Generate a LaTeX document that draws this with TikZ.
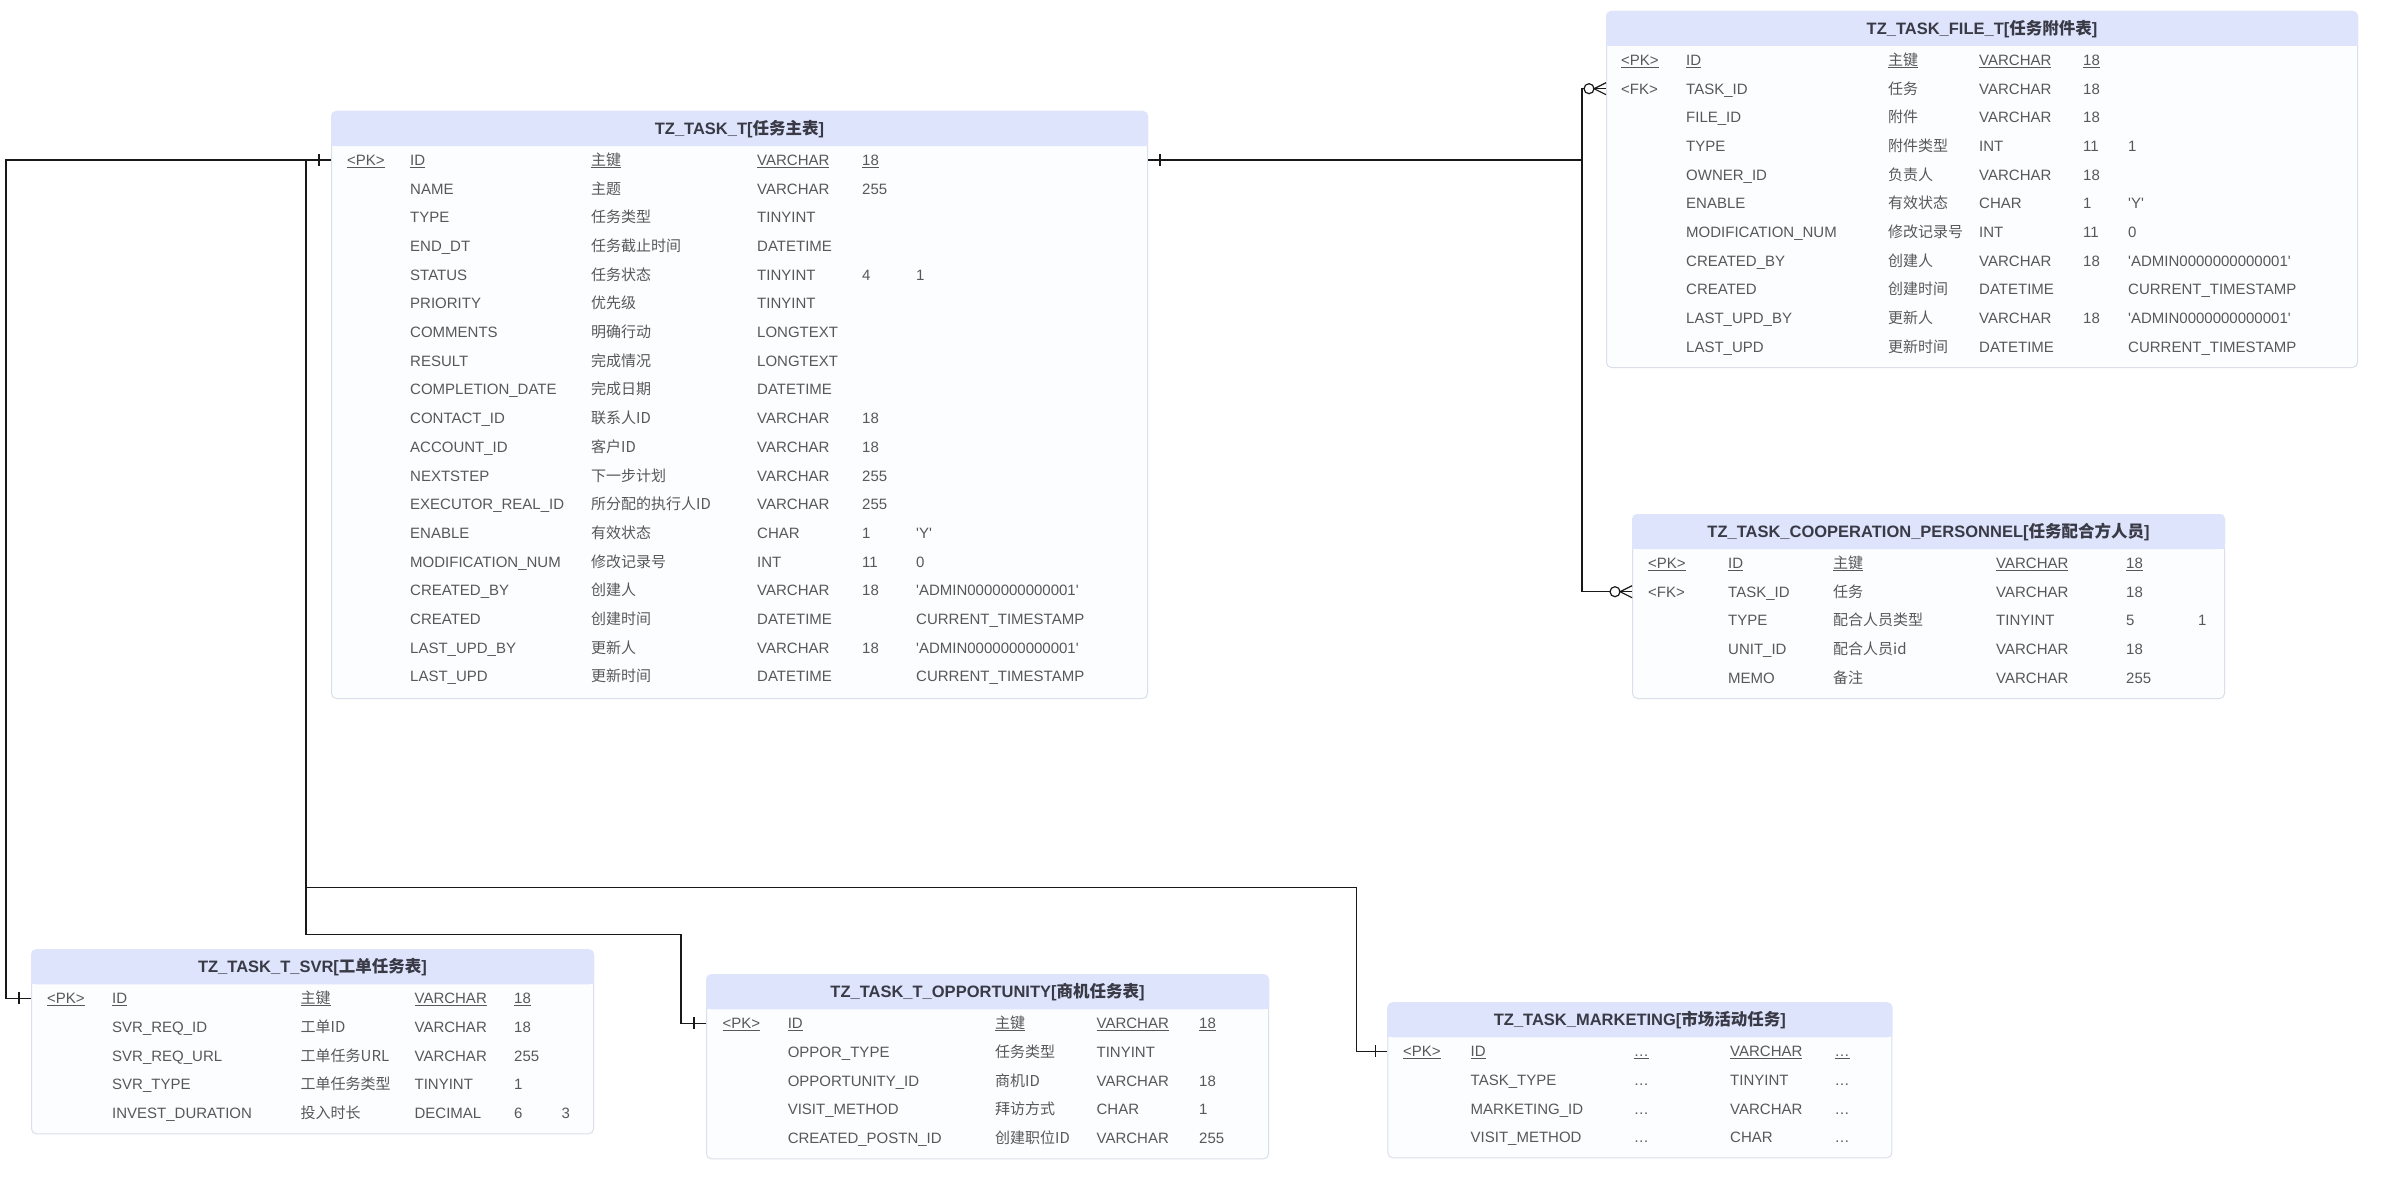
\documentclass[tikz,border=0pt]{standalone}
\usepackage{fontspec}
\newfontfamily\latin{Liberation Sans}
\newfontfamily\cjk{Noto Sans CJK SC}
\usetikzlibrary{calc}
\definecolor{headblue}{RGB}{221,228,252}
\definecolor{bodywhite}{RGB}{252,253,255}
\definecolor{boxline}{RGB}{219,223,233}
\definecolor{rowgray}{RGB}{88,88,88}
\definecolor{titlegray}{RGB}{58,58,70}
\newcommand{\pkline}[1]{\underline{\raisebox{0pt}[\height][0pt]{#1}}}
\newcommand{\sqt}{\textquotesingle}
\newcommand{\admin}{\sqt ADMIN0000000000001\sqt}
\begin{document}
\begin{tikzpicture}[x=1pt,y=-1pt,
    tablebox/.style={draw=boxline,fill=bodywhite,line width=1pt,rounded corners=5pt,anchor=north west,inner sep=0pt},
    tabletitle/.style={inner sep=0pt,text=titlegray,text height=11.5pt,text depth=0pt,font=\latin\bfseries\fontsize{16.5pt}{19pt}\selectfont},
    field/.style={anchor=west,inner sep=0pt,text=rowgray,text height=10.7pt,text depth=0pt,font=\latin\fontsize{15pt}{18pt}\selectfont},
    note/.style={field,font=\cjk\fontsize{15pt}{18pt}\selectfont},
    link/.style={draw=black!90,line width=1.2pt}]
    \path[use as bounding box,fill=white] (0,0) rectangle (2381,1180);

    % TZ_TASK_T
    \node[tablebox,minimum width=816pt,minimum height=587pt] (task) at (331,111) {};
    \fill[headblue,rounded corners=5pt] (task.north west) rectangle ($(task.north east)+(0,35)$);
    \fill[headblue] ($(task.north west)+(0,20)$) rectangle ($(task.north east)+(0,35)$);
    \node[tabletitle] (task-title) at ($(task.north)+(0,17.5)$) {TZ\_TASK\_T[{\cjk 任务主表}]};
    \node[field] (task-pk) at (347,160) {\pkline{<PK>}};
    \node[field] (task-n0) at (410,160) {\pkline{ID}};
    \node[note] (task-c0) at (591,160) {\pkline{主键}};
    \node[field] (task-t0) at (757,160) {\pkline{VARCHAR}};
    \node[field] (task-l0) at (862,160) {\pkline{18}};
    \foreach \n/\c/\t/\l/\d [count=\i] in {
        NAME/主题/VARCHAR/255/{},
        TYPE/任务类型/TINYINT/{}/{},
        END\_DT/任务截止时间/DATETIME/{}/{},
        STATUS/任务状态/TINYINT/4/1,
        PRIORITY/优先级/TINYINT/{}/{},
        COMMENTS/明确行动/LONGTEXT/{}/{},
        RESULT/完成情况/LONGTEXT/{}/{},
        COMPLETION\_DATE/完成日期/DATETIME/{}/{},
        CONTACT\_ID/联系人ID/VARCHAR/18/{},
        ACCOUNT\_ID/客户ID/VARCHAR/18/{},
        NEXTSTEP/下一步计划/VARCHAR/255/{},
        EXECUTOR\_REAL\_ID/所分配的执行人ID/VARCHAR/255/{},
        ENABLE/有效状态/CHAR/1/\sqt Y\sqt,
        MODIFICATION\_NUM/修改记录号/INT/11/0,
        CREATED\_BY/创建人/VARCHAR/18/\admin,
        CREATED/创建时间/DATETIME/{}/CURRENT\_TIMESTAMP,
        LAST\_UPD\_BY/更新人/VARCHAR/18/\admin,
        LAST\_UPD/更新时间/DATETIME/{}/CURRENT\_TIMESTAMP}
    {
        \node[field] (task-n\i) at (410,{160+28.7*\i}) {\n};
        \node[note] (task-c\i) at (591,{160+28.7*\i}) {\c};
        \node[field] (task-t\i) at (757,{160+28.7*\i}) {\t};
        \node[field] (task-l\i) at (862,{160+28.7*\i}) {\l};
        \node[field] (task-d\i) at (916,{160+28.7*\i}) {\d};
    }

    % TZ_TASK_FILE_T
    \node[tablebox,minimum width=751pt,minimum height=356pt] (file) at (1606,11) {};
    \fill[headblue,rounded corners=5pt] (file.north west) rectangle ($(file.north east)+(0,35)$);
    \fill[headblue] ($(file.north west)+(0,20)$) rectangle ($(file.north east)+(0,35)$);
    \node[tabletitle] (file-title) at ($(file.north)+(0,17.5)$) {TZ\_TASK\_FILE\_T[{\cjk 任务附件表}]};
    \node[field] (file-pk) at (1621,60) {\pkline{<PK>}};
    \node[field] (file-n0) at (1686,60) {\pkline{ID}};
    \node[note] (file-c0) at (1888,60) {\pkline{主键}};
    \node[field] (file-t0) at (1979,60) {\pkline{VARCHAR}};
    \node[field] (file-l0) at (2083,60) {\pkline{18}};
    \node[field] (file-fk) at (1621,88.7) {<FK>};
    \foreach \n/\c/\t/\l/\d [count=\i] in {
        TASK\_ID/任务/VARCHAR/18/{},
        FILE\_ID/附件/VARCHAR/18/{},
        TYPE/附件类型/INT/11/1,
        OWNER\_ID/负责人/VARCHAR/18/{},
        ENABLE/有效状态/CHAR/1/\sqt Y\sqt,
        MODIFICATION\_NUM/修改记录号/INT/11/0,
        CREATED\_BY/创建人/VARCHAR/18/\admin,
        CREATED/创建时间/DATETIME/{}/CURRENT\_TIMESTAMP,
        LAST\_UPD\_BY/更新人/VARCHAR/18/\admin,
        LAST\_UPD/更新时间/DATETIME/{}/CURRENT\_TIMESTAMP}
    {
        \node[field] (file-n\i) at (1686,{60+28.7*\i}) {\n};
        \node[note] (file-c\i) at (1888,{60+28.7*\i}) {\c};
        \node[field] (file-t\i) at (1979,{60+28.7*\i}) {\t};
        \node[field] (file-l\i) at (2083,{60+28.7*\i}) {\l};
        \node[field] (file-d\i) at (2128,{60+28.7*\i}) {\d};
    }

    % TZ_TASK_COOPERATION_PERSONNEL
    \node[tablebox,minimum width=592pt,minimum height=184pt] (coop) at (1632,514) {};
    \fill[headblue,rounded corners=5pt] (coop.north west) rectangle ($(coop.north east)+(0,35)$);
    \fill[headblue] ($(coop.north west)+(0,20)$) rectangle ($(coop.north east)+(0,35)$);
    \node[tabletitle] (coop-title) at ($(coop.north)+(0,17.5)$) {TZ\_TASK\_COOPERATION\_PERSONNEL[{\cjk 任务配合方人员}]};
    \node[field] (coop-pk) at (1648,563) {\pkline{<PK>}};
    \node[field] (coop-n0) at (1728,563) {\pkline{ID}};
    \node[note] (coop-c0) at (1833,563) {\pkline{主键}};
    \node[field] (coop-t0) at (1996,563) {\pkline{VARCHAR}};
    \node[field] (coop-l0) at (2126,563) {\pkline{18}};
    \node[field] (coop-fk) at (1648,591.7) {<FK>};
    \foreach \n/\c/\t/\l/\d [count=\i] in {
        TASK\_ID/任务/VARCHAR/18/{},
        TYPE/配合人员类型/TINYINT/5/1,
        UNIT\_ID/配合人员id/VARCHAR/18/{},
        MEMO/备注/VARCHAR/255/{}}
    {
        \node[field] (coop-n\i) at (1728,{563+28.7*\i}) {\n};
        \node[note] (coop-c\i) at (1833,{563+28.7*\i}) {\c};
        \node[field] (coop-t\i) at (1996,{563+28.7*\i}) {\t};
        \node[field] (coop-l\i) at (2126,{563+28.7*\i}) {\l};
        \node[field] (coop-d\i) at (2198,{563+28.7*\i}) {\d};
    }

    % TZ_TASK_T_SVR
    \node[tablebox,minimum width=562pt,minimum height=184pt] (svr) at (31,949.3) {};
    \fill[headblue,rounded corners=5pt] (svr.north west) rectangle ($(svr.north east)+(0,35)$);
    \fill[headblue] ($(svr.north west)+(0,20)$) rectangle ($(svr.north east)+(0,35)$);
    \node[tabletitle] (svr-title) at ($(svr.north)+(0,17.5)$) {TZ\_TASK\_T\_SVR[{\cjk 工单任务表}]};
    \node[field] (svr-pk) at (47,998.3) {\pkline{<PK>}};
    \node[field] (svr-n0) at (112,998.3) {\pkline{ID}};
    \node[note] (svr-c0) at (300.5,998.3) {\pkline{主键}};
    \node[field] (svr-t0) at (414.4,998.3) {\pkline{VARCHAR}};
    \node[field] (svr-l0) at (514,998.3) {\pkline{18}};
    \foreach \n/\c/\t/\l/\d [count=\i] in {
        SVR\_REQ\_ID/工单ID/VARCHAR/18/{},
        SVR\_REQ\_URL/工单任务URL/VARCHAR/255/{},
        SVR\_TYPE/工单任务类型/TINYINT/1/{},
        INVEST\_DURATION/投入时长/DECIMAL/6/3}
    {
        \node[field] (svr-n\i) at (112,{998.3+28.7*\i}) {\n};
        \node[note] (svr-c\i) at (300.5,{998.3+28.7*\i}) {\c};
        \node[field] (svr-t\i) at (414.4,{998.3+28.7*\i}) {\t};
        \node[field] (svr-l\i) at (514,{998.3+28.7*\i}) {\l};
        \node[field] (svr-d\i) at (561.5,{998.3+28.7*\i}) {\d};
    }

    % TZ_TASK_T_OPPORTUNITY
    \node[tablebox,minimum width=562pt,minimum height=184pt] (opp) at (706,974.3) {};
    \fill[headblue,rounded corners=5pt] (opp.north west) rectangle ($(opp.north east)+(0,35)$);
    \fill[headblue] ($(opp.north west)+(0,20)$) rectangle ($(opp.north east)+(0,35)$);
    \node[tabletitle] (opp-title) at ($(opp.north)+(0,17.5)$) {TZ\_TASK\_T\_OPPORTUNITY[{\cjk 商机任务表}]};
    \node[field] (opp-pk) at (722.5,1023.3) {\pkline{<PK>}};
    \node[field] (opp-n0) at (787.6,1023.3) {\pkline{ID}};
    \node[note] (opp-c0) at (995,1023.3) {\pkline{主键}};
    \node[field] (opp-t0) at (1096.4,1023.3) {\pkline{VARCHAR}};
    \node[field] (opp-l0) at (1199,1023.3) {\pkline{18}};
    \foreach \n/\c/\t/\l [count=\i] in {
        OPPOR\_TYPE/任务类型/TINYINT/{},
        OPPORTUNITY\_ID/商机ID/VARCHAR/18,
        VISIT\_METHOD/拜访方式/CHAR/1,
        CREATED\_POSTN\_ID/创建职位ID/VARCHAR/255}
    {
        \node[field] (opp-n\i) at (787.6,{1023.3+28.7*\i}) {\n};
        \node[note] (opp-c\i) at (995,{1023.3+28.7*\i}) {\c};
        \node[field] (opp-t\i) at (1096.4,{1023.3+28.7*\i}) {\t};
        \node[field] (opp-l\i) at (1199,{1023.3+28.7*\i}) {\l};
    }

    % TZ_TASK_MARKETING
    \node[tablebox,minimum width=504pt,minimum height=155pt] (mkt) at (1387.4,1002.3) {};
    \fill[headblue,rounded corners=5pt] (mkt.north west) rectangle ($(mkt.north east)+(0,35)$);
    \fill[headblue] ($(mkt.north west)+(0,20)$) rectangle ($(mkt.north east)+(0,35)$);
    \node[tabletitle] (mkt-title) at ($(mkt.north)+(0,17.5)$) {TZ\_TASK\_MARKETING[{\cjk 市场活动任务}]};
    \node[field] (mkt-pk) at (1403,1051.3) {\pkline{<PK>}};
    \node[field] (mkt-n0) at (1470.5,1051.3) {\pkline{ID}};
    \node[field] (mkt-c0) at (1633.6,1051.3) {\pkline{\textellipsis}};
    \node[field] (mkt-t0) at (1730,1051.3) {\pkline{VARCHAR}};
    \node[field] (mkt-l0) at (1834.3,1051.3) {\pkline{\textellipsis}};
    \foreach \n/\t [count=\i] in {TASK\_TYPE/TINYINT, MARKETING\_ID/VARCHAR, VISIT\_METHOD/CHAR}
    {
        \node[field] (mkt-n\i) at (1470.5,{1051.3+28.7*\i}) {\n};
        \node[field] (mkt-c\i) at (1633.6,{1051.3+28.7*\i}) {\textellipsis};
        \node[field] (mkt-t\i) at (1730,{1051.3+28.7*\i}) {\t};
        \node[field] (mkt-l\i) at (1834.3,{1051.3+28.7*\i}) {\textellipsis};
    }

    % links
    \coordinate (bus-r) at ($(file.west)+(-24,0)$);
    \coordinate (bus-l) at ($(task.west)+(-25,0)$);
    \coordinate (bus-far) at ($(svr.west)+(-25,0)$);
    \coordinate (opp-bend) at ($(opp.north west)+(-25,-40)$);
    \coordinate (mkt-bend) at ($(mkt.north west)+(-31,-115)$);
    \coordinate (e-file) at (file.west |- file-fk);
    \coordinate (e-coop) at (coop.west |- coop-fk);
    \draw[link] (task.east |- task-n0) -| (bus-r |- e-file) -- (e-file);
    \draw[link] (bus-r |- task-n0) |- (e-coop);
    \draw[link] (task.west |- task-n0) -| (bus-far |- svr-n0) -- (svr.west |- svr-n0);
    \draw[link] (bus-l |- task-n0) |- (opp-bend) |- (opp.west |- opp-n0);
    \draw[link] (bus-l |- task-n0) |- (mkt-bend) |- (mkt.west |- mkt-n0);

    \draw[link] ($(task.east |- task-n0)+(12,-6)$) -- ++(0,12);
    \draw[link] ($(task.west |- task-n0)+(-12,-6)$) -- ++(0,12);
    \draw[link] ($(svr.west |- svr-n0)+(-12,-6)$) -- ++(0,12);
    \draw[link] ($(opp.west |- opp-n0)+(-12,-6)$) -- ++(0,12);
    \draw[link] ($(mkt.west |- mkt-n0)+(-12,-6)$) -- ++(0,12);

    \draw[link,fill=white] ($(e-file)+(-17,0)$) circle (5pt);
    \draw[link] ($(e-file)+(0,-6)$) -- ($(e-file)+(-12,0)$) -- ($(e-file)+(0,6)$);
    \draw[link,fill=white] ($(e-coop)+(-17,0)$) circle (5pt);
    \draw[link] ($(e-coop)+(0,-6)$) -- ($(e-coop)+(-12,0)$) -- ($(e-coop)+(0,6)$);
\end{tikzpicture}
\end{document}
